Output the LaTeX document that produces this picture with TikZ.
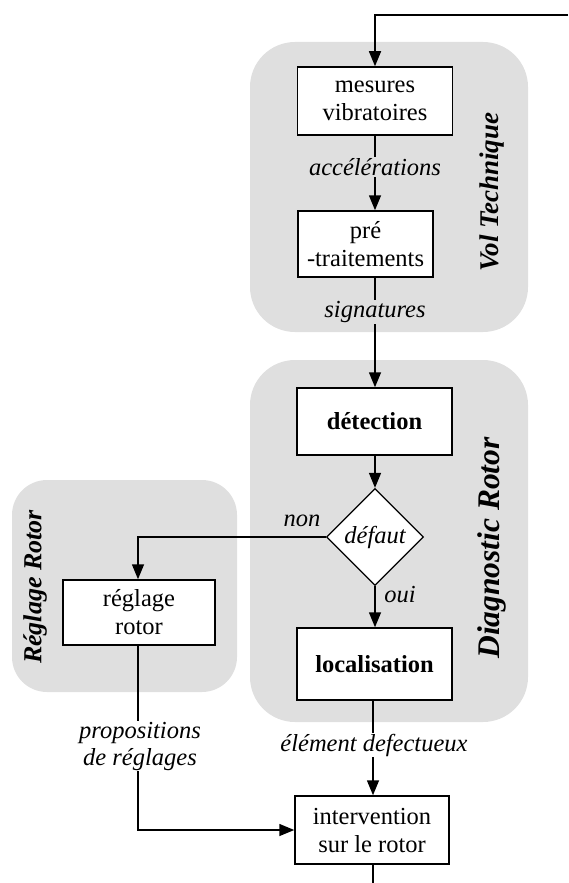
\documentclass[tikz,border=0pt]{standalone}
\usepackage{fontspec}
\setmainfont{Liberation Serif}
\usetikzlibrary{shapes.geometric,arrows.meta}
\definecolor{regiongray}{HTML}{DFDFDF}
\newcommand{\boxfont}{\fontsize{24.5}{28}\selectfont}
\newcommand{\lblfont}{\fontsize{24.5}{27}\selectfont\itshape}
\tikzset{
  region/.style={fill=regiongray, rounded corners=45pt},
  stagebox/.style={draw, line width=1.5pt, fill=white, align=center,
    inner sep=0pt, font=\boxfont},
  decision/.style={draw, line width=1.3pt, fill=white, diamond, aspect=1,
    minimum width=97pt, minimum height=97pt, inner sep=0pt, font=\lblfont},
  lbl/.style={font=\lblfont, inner sep=1pt, align=center},
  title/.style={font=\bfseries\itshape, rotate=90, inner sep=0pt},
  wire/.style={line width=1.5pt},
  flow/.style={wire, -{Triangle[length=15pt,width=12pt]}}
}
\begin{document}
\begin{tikzpicture}[x=1pt,y=-1pt]
\useasboundingbox (0,0) rectangle (568,883);

% grey background regions
\path[region] (250,42) rectangle (528,332);
\path[region] (250,360) rectangle (528,722);
\path[region, rounded corners=35pt] (12,480) rectangle (237,692);

% region titles
\node[title, font=\fontsize{27}{30}\selectfont\bfseries\itshape] (tvol) at (492,192) {Vol Technique};
\node[title, font=\fontsize{31.5}{34}\selectfont\bfseries\itshape] (tdiag) at (492,548) {Diagnostic Rotor};
\node[title, font=\fontsize{26}{28}\selectfont\bfseries\itshape] (treg) at (35,587) {Réglage Rotor};

% processing stages
\node[stagebox, minimum width=155pt, minimum height=68pt] (mes) at (375,101) {mesures\\vibratoires};
\node[stagebox, minimum width=135pt, minimum height=66pt] (pre) at (365.5,244) {pré\\-traitements};
\node[stagebox, minimum width=155pt, minimum height=67pt, font=\boxfont\bfseries] (det) at (374.5,421.5) {détection};
\node[decision] (def) at (375,537) {défaut};
\node[stagebox, minimum width=155pt, minimum height=72pt, font=\boxfont\bfseries] (loc) at (374.5,664) {localisation};
\node[stagebox, minimum width=152pt, minimum height=65pt] (reg) at (139,612.5) {réglage\\rotor};
\node[stagebox, minimum width=154pt, minimum height=68pt] (int) at (372,830) {intervention\\sur le rotor};

% loose ends
\coordinate (in) at (568,15);
\coordinate (out) at (373,883);
\coordinate (turn) at (138,537);

% connectors
\draw[flow] (in) -- (375,15) -- (mes.north -| 375,0);
\draw[flow] (mes.south -| 375,0) -- (pre.north -| 375,0);
\draw[flow] (pre.south -| 375,0) -- (det.north -| 375,0);
\draw[flow] (det.south -| 375,0) -- (def.north);
\draw[flow] (def.south) -- (loc.north -| 375,0);
\draw[flow] (def.west) -- (turn) -- (reg.north -| turn);
\draw[flow] (loc.south -| 373,0) -- (int.north -| 373,0);
\draw[flow] (reg.south -| turn) -- (int.west -| turn) -- (int.west);
\draw[wire] (int.south -| out) -- (out);

% connector labels
\node[lbl, fill=regiongray] (lacc) at (375,167) {accélérations};
\node[lbl, fill=regiongray] (lsig) at (375,312) {signatures};
\node[lbl] (lnon) at (302,521) {non};
\node[lbl] (loui) at (400,595) {oui};
\node[lbl, fill=white] (lelt) at (374,745) {élément defectueux};
\node[lbl, fill=white] (lprop) at (140,746) {propositions\\de réglages};
\end{tikzpicture}
\end{document}
